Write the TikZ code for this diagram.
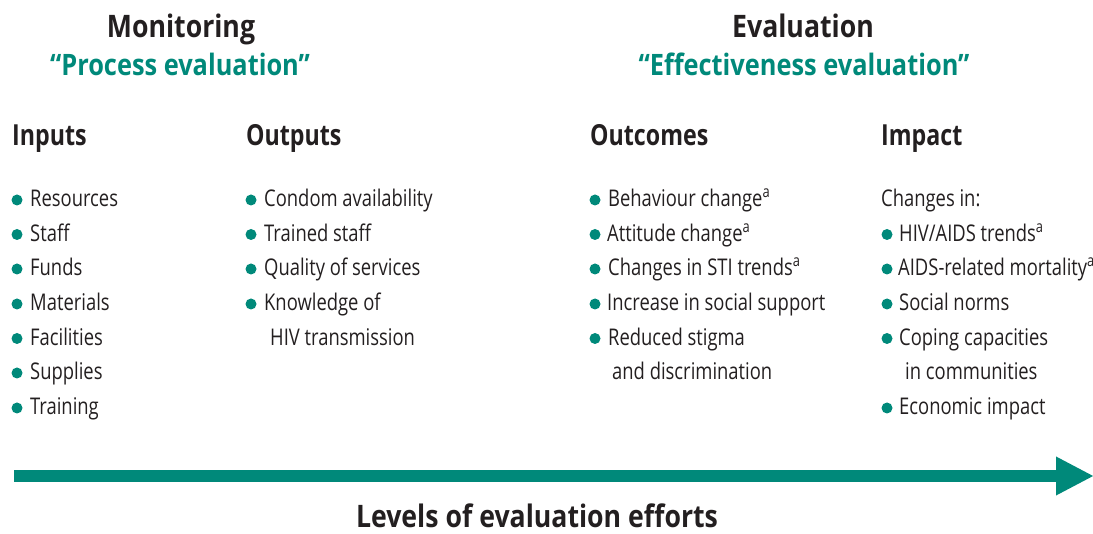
\documentclass[tikz,border=0pt]{standalone}
\usepackage{fontspec}
\setmainfont[FakeStretch=0.8]{Open Sans}
\newfontfamily\titlefont[FakeStretch=0.86]{Open Sans}
\usetikzlibrary{positioning, arrows.meta}
\definecolor{evalteal}{RGB}{0,137,122}
\definecolor{textcol}{RGB}{35,31,32}

\begin{document}
\begin{tikzpicture}[
			x=1pt,
			y=-1pt,
			title/.style={
				font=\titlefont\fontsize{31}{34}\selectfont\bfseries,
				text=textcol,
				anchor=base,
				inner sep=0pt
			},
			subtitle/.style={
				font=\titlefont\fontsize{29.5}{32}\selectfont\bfseries,
				text=evalteal,
				anchor=base,
				inner sep=0pt
			},
			header/.style={
				font=\fontsize{29}{32}\selectfont\bfseries,
				text=textcol,
				anchor=base west,
				inner sep=0pt
			},
			entry/.style={
				font=\fontsize{23}{26}\selectfont,
				text=textcol,
				anchor=base west,
				inner sep=0pt
			},
			dot/.style={
				circle,
				fill=evalteal,
				minimum size=11pt,
				inner sep=0pt
			},
			levelarrow/.style={
				draw=evalteal,
				line width=12pt,
				-{Triangle[length=38pt, width=36pt]}
			}
			]
			\useasboundingbox (0,0) rectangle (1093,534);
			
			% Titles
			\node[title] (mon) at (181,38) {Monitoring};
			\node[subtitle] (monsub) at (180,76) {“Process evaluation”};
			\node[title] (eval) at (803,38) {Evaluation};
			\node[subtitle] (evalsub) at (804,76) {“Effectiveness evaluation”};
			
			% Column headers
			\node[header] (inputs) at (12,146) {Inputs};
			\node[header] (outputs) at (246,146) {Outputs};
			\node[header] (outcomes) at (590,146) {Outcomes};
			\node[header] (impact) at (881,146) {Impact};
			
			% Inputs
			\node[dot] (in1dot) at (17,200) {};
			\node[entry] (in1) at (30,207) {Resources};
			\node[dot] (in2dot) at (17,234.5) {};
			\node[entry] (in2) at (30,241.5) {Staff};
			\node[dot] (in3dot) at (17,269) {};
			\node[entry] (in3) at (30,276) {Funds};
			\node[dot] (in4dot) at (17,304) {};
			\node[entry] (in4) at (30,311) {Materials};
			\node[dot] (in5dot) at (17,338.5) {};
			\node[entry] (in5) at (30,345.5) {Facilities};
			\node[dot] (in6dot) at (17,373) {};
			\node[entry] (in6) at (30,380) {Supplies};
			\node[dot] (in7dot) at (17,408) {};
			\node[entry] (in7) at (30,415) {Training};
			
			% Outputs
			\node[dot] (out1dot) at (251,200) {};
			\node[entry] (out1) at (264,207) {Condom availability};
			\node[dot] (out2dot) at (251,234.5) {};
			\node[entry] (out2) at (264,241.5) {Trained staff};
			\node[dot] (out3dot) at (251,269) {};
			\node[entry] (out3) at (264,276) {Quality of services};
			\node[dot] (out4dot) at (251,304) {};
			\node[entry] (out4) at (264,311) {Knowledge of};
			\node[entry] (out4b) at (270,345.5) {HIV transmission};
			
			% Outcomes
			\node[dot] (oc1dot) at (595,200) {};
			\node[entry] (oc1) at (608,207) {Behaviour change\textsuperscript{a}};
			\node[dot] (oc2dot) at (595,234.5) {};
			\node[entry] (oc2) at (607,241.5) {Attitude change\textsuperscript{a}};
			\node[dot] (oc3dot) at (595,269) {};
			\node[entry] (oc3) at (608,276) {Changes in STI trends\textsuperscript{a}};
			\node[dot] (oc4dot) at (595,304) {};
			\node[entry] (oc4) at (607,311) {Increase in social support};
			\node[dot] (oc5dot) at (595,338.5) {};
			\node[entry] (oc5) at (608,345.5) {Reduced stigma};
			\node[entry] (oc5b) at (612,380) {and discrimination};
			
			% Impact
			\node[entry] (im0) at (881,207) {Changes in:};
			\node[dot] (im1dot) at (887,234.5) {};
			\node[entry] (im1) at (899,241.5) {HIV/AIDS trends\textsuperscript{a}};
			\node[dot] (im2dot) at (887,269) {};
			\node[entry] (im2) at (898,276) {AIDS-related mortality\textsuperscript{a}};
			\node[dot] (im3dot) at (887,304) {};
			\node[entry] (im3) at (899,311) {Social norms};
			\node[dot] (im4dot) at (887,338.5) {};
			\node[entry] (im4) at (899,345.5) {Coping capacities};
			\node[entry] (im4b) at (905,380) {in communities};
			\node[dot] (im5dot) at (887,408) {};
			\node[entry] (im5) at (899,415) {Economic impact};
			
			% Levels arrow
			\coordinate (arrowstart) at (14,476);
			\coordinate (arrowend) at (1094,476);
			\draw[levelarrow] (arrowstart) -- (arrowend);
			\node[title] (levels) at (537,527) {Levels of evaluation efforts};
		\end{tikzpicture}
\end{document}
